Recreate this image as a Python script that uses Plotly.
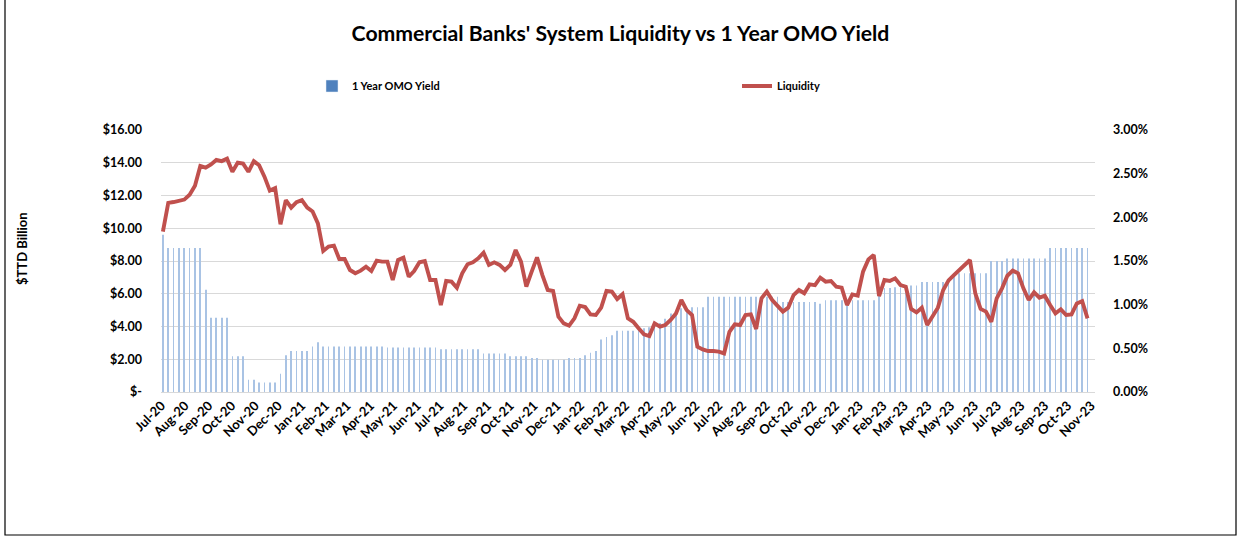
import pandas as pd
import plotly.graph_objects as go

# Weekly observation dates (Jul-2020 .. Oct-2023)
dates = pd.date_range("2020-07-03", periods=174, freq="7D")

# Commercial banks' system liquidity (TT$ billion)
liquidity = [
    9.80, 11.55, 11.60, 11.70, 11.75, 12.05, 12.60, 13.80, 13.70, 13.90,
    14.17, 14.10, 14.25, 13.45, 14.00, 13.95, 13.45, 14.10, 13.85, 13.15,
    12.30, 12.45, 10.24, 11.72, 11.26, 11.60, 11.72, 11.26, 11.02, 10.30,
    8.61, 8.88, 8.94, 8.12, 8.12, 7.45, 7.25, 7.41, 7.65, 7.39,
    8.02, 7.96, 7.96, 6.84, 8.06, 8.20, 7.04, 7.39, 7.92, 8.00,
    6.84, 6.84, 5.31, 6.78, 6.74, 6.37, 7.25, 7.80, 7.92, 8.16,
    8.51, 7.76, 7.92, 7.76, 7.45, 7.76, 8.67, 7.96, 6.43, 7.35,
    8.22, 7.14, 6.23, 6.17, 4.60, 4.19, 4.05, 4.50, 5.27, 5.19,
    4.74, 4.70, 5.15, 6.17, 6.13, 5.68, 5.97, 4.50, 4.29, 3.89,
    3.52, 3.42, 4.19, 3.99, 4.09, 4.40, 4.80, 5.62, 5.00, 4.70,
    2.77, 2.60, 2.50, 2.50, 2.47, 2.36, 3.68, 4.13, 4.09, 4.70,
    4.74, 3.85, 5.72, 6.13, 5.62, 5.26, 4.91, 5.15, 5.92, 6.23,
    6.03, 6.57, 6.53, 6.98, 6.74, 6.78, 6.43, 6.37, 5.31, 5.96,
    5.88, 7.35, 8.10, 8.37, 5.86, 6.84, 6.78, 6.94, 6.53, 6.43,
    5.07, 4.86, 5.15, 4.09, 4.60, 5.15, 6.23, 6.82, 7.14, 7.45,
    7.76, 8.06, 6.03, 5.07, 4.91, 4.29, 5.72, 6.33, 7.10, 7.41,
    7.25, 6.33, 5.62, 6.09, 5.76, 5.88, 5.31, 4.80, 5.05, 4.70,
    4.74, 5.41, 5.55, 4.50,
]

# 1 Year OMO yield (%)
omo_yield = [
    1.80, 1.65, 1.65, 1.65, 1.65, 1.65, 1.65, 1.65, 1.17, 0.85,
    0.85, 0.85, 0.85, 0.41, 0.41, 0.41, 0.14, 0.14, 0.11, 0.11,
    0.11, 0.11, 0.21, 0.42, 0.47, 0.47, 0.47, 0.47, 0.52, 0.57,
    0.52, 0.52, 0.52, 0.52, 0.52, 0.52, 0.52, 0.52, 0.52, 0.52,
    0.52, 0.52, 0.51, 0.51, 0.51, 0.51, 0.51, 0.51, 0.51, 0.51,
    0.51, 0.51, 0.49, 0.49, 0.49, 0.49, 0.49, 0.49, 0.49, 0.49,
    0.44, 0.44, 0.44, 0.44, 0.44, 0.41, 0.41, 0.41, 0.41, 0.39,
    0.39, 0.37, 0.37, 0.37, 0.37, 0.37, 0.39, 0.39, 0.39, 0.42,
    0.45, 0.47, 0.60, 0.63, 0.65, 0.70, 0.70, 0.70, 0.70, 0.71,
    0.73, 0.74, 0.79, 0.79, 0.84, 0.90, 0.92, 0.96, 0.96, 0.97,
    0.97, 0.97, 1.09, 1.09, 1.09, 1.09, 1.09, 1.09, 1.09, 1.09,
    1.09, 1.09, 1.09, 1.09, 1.09, 1.09, 1.03, 1.03, 1.03, 1.03,
    1.03, 1.03, 1.03, 1.01, 1.05, 1.05, 1.05, 1.05, 1.05, 1.05,
    1.05, 1.05, 1.05, 1.05, 1.19, 1.19, 1.19, 1.20, 1.20, 1.22,
    1.22, 1.22, 1.26, 1.26, 1.26, 1.26, 1.26, 1.26, 1.36, 1.36,
    1.36, 1.36, 1.36, 1.36, 1.36, 1.50, 1.50, 1.50, 1.53, 1.53,
    1.53, 1.53, 1.53, 1.53, 1.53, 1.53, 1.65, 1.65, 1.65, 1.65,
    1.65, 1.65, 1.65, 1.65,
]

left_tickvals = [0, 2, 4, 6, 8, 10, 12, 14, 16]
left_ticktext = ["$-", "$2.00", "$4.00", "$6.00", "$8.00", "$10.00", "$12.00", "$14.00", "$16.00"]
right_tickvals = [0, 0.5, 1.0, 1.5, 2.0, 2.5, 3.0]
right_ticktext = ["0.00%", "0.50%", "1.00%", "1.50%", "2.00%", "2.50%", "3.00%"]

TITLE = "Commercial Banks' System Liquidity vs 1 Year OMO Yield"
FONT = "Lato"
W, H = 1241, 537
L, R, T, B = 161, 146, 130, 145
PW, PH = W - L - R, H - T - B


def px_x(x):
    return (x - L) / PW


def px_y(y):
    return (H - B - y) / PH


fig = go.Figure()

# OMO yield bars (percent axis, drawn underneath)
fig.add_trace(go.Bar(
    x=dates, y=omo_yield, yaxis="y", name="1 Year OMO Yield",
    marker=dict(color="#A9C3E4", line=dict(width=0)),
    width=0.95 * 86400000, showlegend=False, hoverinfo="x+y",
))
# legend entry for the bars (solid swatch like the original)
fig.add_trace(go.Bar(
    x=[None], y=[None], yaxis="y", name="1 Year OMO Yield",
    marker=dict(color="#4F81BD"), legend="legend",
))
# Liquidity line (money axis, on top)
fig.add_trace(go.Scatter(
    x=dates, y=liquidity, yaxis="y2", name="Liquidity", mode="lines",
    line=dict(color="#C0504D", width=3.9), legend="legend2",
))

ytick_font = dict(family=FONT, size=12.5, color="#000000", weight="bold")
xtick_font = dict(family=FONT, size=13, color="#000000", weight="bold")

fig.update_layout(
    width=W, height=H,
    margin=dict(l=L, r=R, t=T, b=B, pad=0),
    paper_bgcolor="white", plot_bgcolor="white",
    barmode="overlay",
    title=dict(text="<b>" + TITLE + "</b>", x=0.5, xanchor="center", xref="container",
               y=1 - 34 / H, yanchor="middle", yref="container",
               font=dict(family=FONT, size=21.2, color="#000000")),
    xaxis=dict(
        type="date",
        range=["2020-06-30 12:00", "2023-11-05 19:00"],
        tick0="2020-07-01", dtick="M1", tickformat="%b-%y",
        tickangle=-45, tickfont=xtick_font,
        showgrid=False, zeroline=False,
        showline=True, linecolor="#D9D9D9", linewidth=1,
        ticks="",
    ),
    yaxis=dict(
        side="right", range=[0, 3.0], tickvals=right_tickvals, ticktext=right_ticktext,
        tickfont=ytick_font,
        showgrid=False, zeroline=False, showline=False, ticks="",
        ticklabelstandoff=17,
    ),
    yaxis2=dict(
        side="left", overlaying="y", range=[0, 16],
        tickvals=left_tickvals, ticktext=left_ticktext, tickfont=ytick_font,
        showgrid=True, gridcolor="#D9D9D9", gridwidth=1,
        zeroline=False, showline=False, ticks="",
        ticklabelstandoff=18,
    ),
    legend=dict(
        orientation="h", x=px_x(312), y=px_y(86), xanchor="left", yanchor="middle",
        font=dict(family=FONT, size=11, color="#000000", weight="bold"),
        bgcolor="rgba(0,0,0,0)",
    ),
    legend2=dict(
        orientation="h", x=px_x(737), y=px_y(86), xanchor="left", yanchor="middle",
        font=dict(family=FONT, size=11, color="#000000", weight="bold"),
        bgcolor="rgba(0,0,0,0)",
    ),
    annotations=[dict(
        text="<b>$TTD Billion</b>", xref="paper", yref="paper",
        x=px_x(22), y=px_y(249), xanchor="center", yanchor="middle",
        textangle=-90, showarrow=False,
        font=dict(family=FONT, size=13, color="#000000"),
    )],
    shapes=[dict(
        type="rect", xref="paper", yref="paper",
        x0=px_x(5), x1=px_x(1236), y0=px_y(535), y1=px_y(-5),
        line=dict(color="#000000", width=1.2), fillcolor="rgba(0,0,0,0)",
        layer="below",
    )],
)

fig.write_html("out.html", config={"displayModeBar": False},
               post_script="document.body.style.margin='0';")
